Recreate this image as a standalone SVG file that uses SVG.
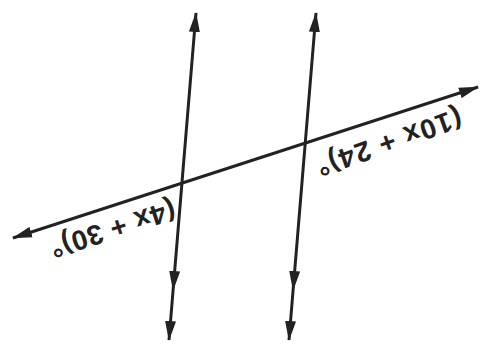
<svg xmlns="http://www.w3.org/2000/svg" width="483" height="350" viewBox="0 0 483 350">
  <defs>
    <marker id="arrow" viewBox="0 0 20 12" markerUnits="userSpaceOnUse" markerWidth="20" markerHeight="12" refX="19" refY="6" orient="auto-start-reverse">
      <path d="M0,0.5 L20,6 L0,11.5 Z" fill="#222"/>
    </marker>
  </defs>
  <style>
    .ln { fill: none; stroke: #222; stroke-width: 3; }
    .lbl { font-family: "Liberation Sans", Arial, sans-serif; font-size: 28px; font-weight: bold; fill: #222; }
  </style>
  <rect width="483" height="350" fill="#ffffff"/>
  <g id="connectors">
    <path id="line-left" class="ln" d="M196,13 L173.1,290 L169,340" marker-start="url(#arrow)" marker-mid="url(#arrow)" marker-end="url(#arrow)"/>
    <path id="line-right" class="ln" d="M316,13 L293.1,290 L289,340" marker-start="url(#arrow)" marker-mid="url(#arrow)" marker-end="url(#arrow)"/>
    <path id="transversal" class="ln" d="M13,238 L478,87" marker-start="url(#arrow)" marker-end="url(#arrow)"/>
  </g>
  <g id="label-left">
    <text class="lbl" transform="translate(172,200) rotate(162)" textLength="130" lengthAdjust="spacing">(4x + 30)°</text>
  </g>
  <g id="label-right">
    <text class="lbl" transform="translate(458,108) rotate(160.5)" textLength="152" lengthAdjust="spacing">(10x + 24)°</text>
  </g>
</svg>
